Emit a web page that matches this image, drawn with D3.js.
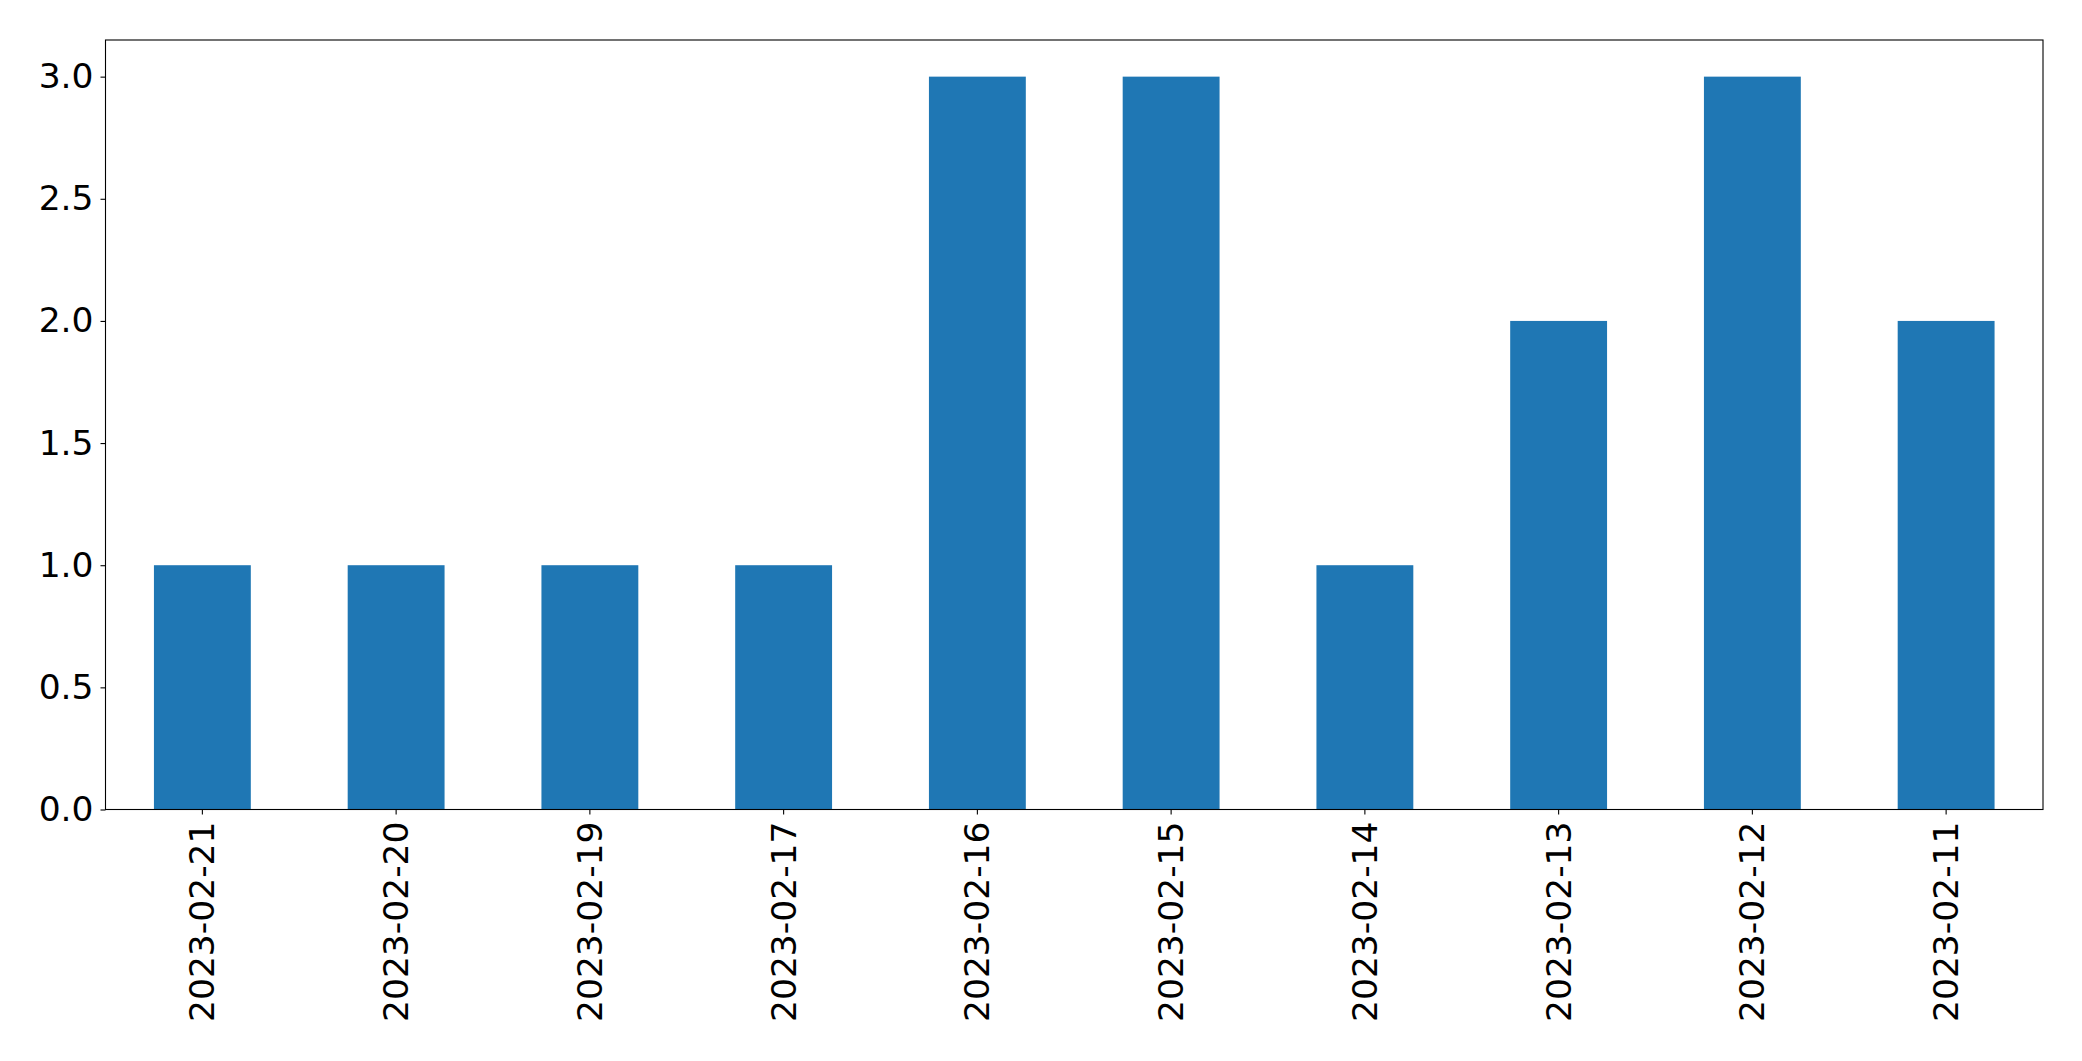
<!DOCTYPE html>
<html>
<head>
<meta charset="utf-8">
<script src="https://cdn.jsdelivr.net/npm/d3@7"></script>
<style>
  body { margin: 0; background: #fff; }
  svg { display: block; }
</style>
</head>
<body>
<svg width="2082" height="1061"></svg>
<script>
const dates = ['2023-02-21', '2023-02-20', '2023-02-19', '2023-02-17', '2023-02-16',
    '2023-02-15', '2023-02-14', '2023-02-13', '2023-02-12', '2023-02-11'];
const counts = [1, 1, 1, 1, 3, 3, 1, 2, 3, 2];
const yTicks = [0, 0.5, 1, 1.5, 2, 2.5, 3];

const svg = d3.select('svg');

const plotLeft = 105.5, plotRight = 2043, plotTop = 40, plotBottom = 809.5;

const xScale = d3.scaleBand()
    .domain(dates)
    .range([plotLeft, plotRight])
    .paddingInner(0.5)
    .paddingOuter(0.25);

const yScale = d3.scaleLinear()
    .domain([0, 3.15])
    .range([plotBottom, plotTop]);

svg.append('g')
    .selectAll('rect')
    .data(dates)
    .enter()
    .append('rect')
    .attr('x', (d) => xScale(d))
    .attr('y', (d, i) => yScale(counts[i]))
    .attr('width', xScale.bandwidth())
    .attr('height', (d, i) => yScale(0) - yScale(counts[i]))
    .attr('fill', '#1f77b4');

// frame
svg.append('rect')
    .attr('x', plotLeft)
    .attr('y', plotTop)
    .attr('width', plotRight - plotLeft)
    .attr('height', plotBottom - plotTop)
    .attr('fill', 'none')
    .attr('stroke', '#000')
    .attr('stroke-width', 1.1);

const yAxis = svg.append('g')
    .attr('transform', `translate(${plotLeft}, 0)`)
    .call(d3.axisLeft(yScale)
        .tickValues(yTicks)
        .tickFormat(d3.format('.1f'))
        .tickSize(5)
        .tickPadding(7));

const xAxis = svg.append('g')
    .attr('transform', `translate(0, ${plotBottom})`)
    .call(d3.axisBottom(xScale).tickSize(5).tickPadding(7));

xAxis.selectAll('text')
    .attr('transform', 'rotate(-90)')
    .attr('x', -12)
    .attr('y', 0)
    .attr('dy', '0.35em')
    .attr('text-anchor', 'end');

[yAxis, xAxis].forEach((ax) => {
    ax.attr('font-family', null).attr('font-size', null);
    ax.select('.domain').remove();
    ax.selectAll('.tick line').attr('stroke', '#000').attr('stroke-width', 1.1);
    ax.selectAll('.tick text')
        .style('font-family', '"DejaVu Sans", sans-serif')
        .style('font-size', '34.5px')
        .attr('fill', '#000');
});
</script>
</body>
</html>
